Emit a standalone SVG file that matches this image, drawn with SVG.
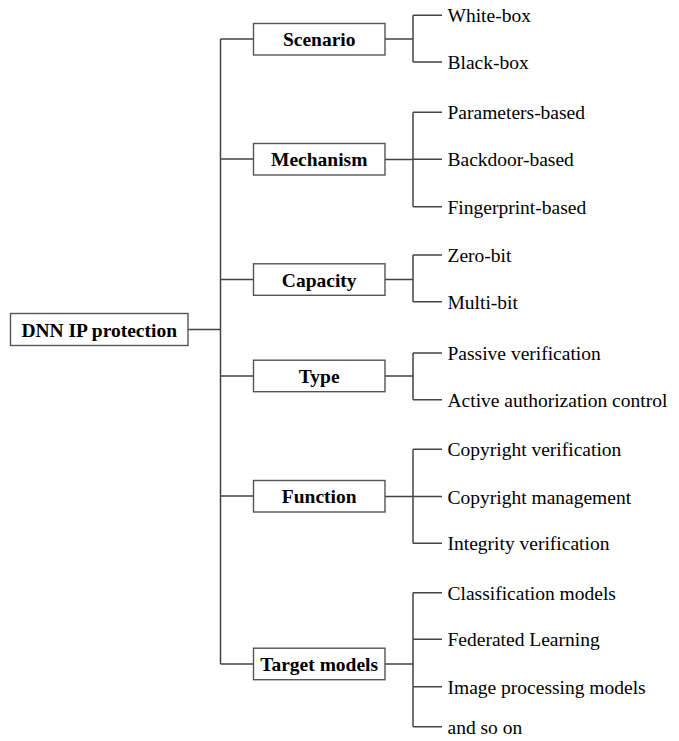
<svg xmlns="http://www.w3.org/2000/svg" width="679" height="741" viewBox="0 0 679 741">
<style>
.box{fill:#fff;stroke:#555;stroke-width:1.4}
.cat{font-family:"Liberation Serif",serif;font-size:19.5px;font-weight:bold;fill:#000;text-anchor:middle}
.leaf{font-family:"Liberation Serif",serif;font-size:19.5px;fill:#000}
.ln{fill:none;stroke:#444;stroke-width:1.5}
</style>
<rect width="679" height="741" fill="#fff"/>
<g id="connectors" class="ln">
<path d="M188 329.5H220.5M220.5 39V664M220.5 39H253.5M220.5 159H253.5M220.5 279.5H253.5M220.5 376H253.5M220.5 496H253.5M220.5 664H253.5"/>
<path d="M385 39H413M413 15.3V62M413 15.3H442M413 62H442"/>
<path d="M385 159.5H413M413 112.3V206.7M413 112.3H442M413 159.3H442M413 206.7H442"/>
<path d="M385 279.5H413M413 255V301.7M413 255H442M413 301.7H442"/>
<path d="M385 376H413M413 353V399.7M413 353H442M413 399.7H442"/>
<path d="M385 496.5H413M413 449.3V543.3M413 449.3H442M413 496.5H442M413 543.3H442"/>
<path d="M385 664H413M413 592.7V726.7M413 592.7H442M413 639.3H442M413 686.7H442M413 726.7H442"/>
</g>
<g id="root"><rect class="box" x="10.5" y="313.5" width="177.5" height="32"/><text class="cat" x="99.2" y="336.5">DNN IP protection</text></g>
<g id="scenario"><rect class="box" x="253.5" y="23.5" width="131.5" height="31.5"/><text class="cat" x="319.2" y="46">Scenario</text></g>
<g id="mechanism"><rect class="box" x="253.5" y="143.5" width="131.5" height="31.5"/><text class="cat" x="319.2" y="166">Mechanism</text></g>
<g id="capacity"><rect class="box" x="253.5" y="263.8" width="131.5" height="31.5"/><text class="cat" x="319.2" y="286.5">Capacity</text></g>
<g id="type"><rect class="box" x="253.5" y="360.2" width="131.5" height="31.5"/><text class="cat" x="319.2" y="383">Type</text></g>
<g id="function"><rect class="box" x="253.5" y="480.5" width="131.5" height="31.5"/><text class="cat" x="319.2" y="503">Function</text></g>
<g id="target"><rect class="box" x="253.5" y="648.2" width="131.5" height="31.5"/><text class="cat" x="319.2" y="671">Target models</text></g>
<g id="leaves" class="leaf">
<text x="447.5" y="22.3">White-box</text>
<text x="447.5" y="69">Black-box</text>
<text x="447.5" y="119.3">Parameters-based</text>
<text x="447.5" y="166.3">Backdoor-based</text>
<text x="447.5" y="213.7">Fingerprint-based</text>
<text x="447.5" y="262">Zero-bit</text>
<text x="447.5" y="308.7">Multi-bit</text>
<text x="447.5" y="360">Passive verification</text>
<text x="447.5" y="406.7">Active authorization control</text>
<text x="447.5" y="456.3">Copyright verification</text>
<text x="447.5" y="503.5">Copyright management</text>
<text x="447.5" y="550.3">Integrity verification</text>
<text x="447.5" y="599.7">Classification models</text>
<text x="447.5" y="646.3">Federated Learning</text>
<text x="447.5" y="693.7">Image processing models</text>
<text x="447.5" y="733.7">and so on</text>
</g>
</svg>
